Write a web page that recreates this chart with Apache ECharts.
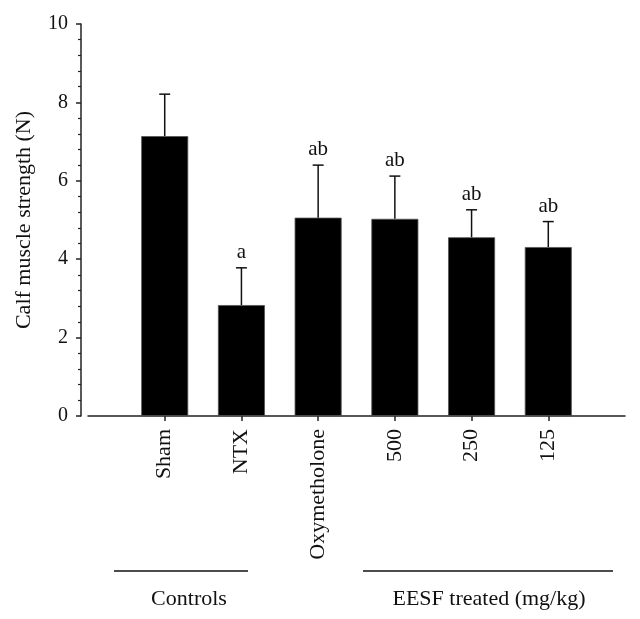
<!DOCTYPE html>
<html><head><meta charset="utf-8">
<script src="https://cdn.jsdelivr.net/npm/echarts@6/dist/echarts.min.js"></script>
<style>html,body{margin:0;padding:0;background:#fff}#c{width:640px;height:619px}</style>
</head><body><div id="c"></div>
<script>
const categories = ['Sham', 'NTX', 'Oxymetholone', '500', '250', '125'];
const means = [7.14, 2.83, 5.06, 5.03, 4.56, 4.31];
const errorTops = [8.21, 3.78, 6.40, 6.12, 5.26, 4.96];
const sigLabels = ['', 'a', 'ab', 'ab', 'ab', 'ab'];
const yTicks = [0, 2, 4, 6, 8, 10];
const groupLabels = ['Controls', 'EESF treated (mg/kg)'];
const yName = 'Calf muscle strength (N)';

const FONT = 'Liberation Serif';
const AX = '#222';
const axisCats = [''].concat(categories, ['']);
const barData = [null].concat(means, [null]);
const errData = categories.map((c, i) => [i + 1, means[i], errorTops[i]]);
const sigData = categories.map((c, i) => [i + 1, errorTops[i], sigLabels[i]]);

const chart = echarts.init(document.getElementById('c'), null, {renderer: 'canvas'});
chart.setOption({
  animation: false,
  backgroundColor: '#fff',
  grid: {left: 88, right: 15, top: 24, bottom: 203},
  xAxis: {
    type: 'category', data: axisCats, boundaryGap: false,
    axisLine: {lineStyle: {color: AX, width: 1.5}},
    axisTick: {show: true, length: 5, lineStyle: {color: AX, width: 1.5},
      interval: (i, v) => v !== ''},
    axisLabel: {rotate: 90, margin: 13, fontFamily: FONT, fontSize: 22, color: '#111',
      interval: 0},
    splitLine: {show: false}
  },
  yAxis: {
    type: 'value', min: yTicks[0], max: yTicks[yTicks.length - 1],
    interval: yTicks[1] - yTicks[0], offset: 7,
    name: yName, nameLocation: 'middle', nameGap: 46,
    nameTextStyle: {fontFamily: FONT, fontSize: 22, color: '#111'},
    axisLine: {show: true, lineStyle: {color: AX, width: 1.5}},
    axisTick: {show: true, length: 5, lineStyle: {color: AX, width: 1.5}},
    minorTick: {show: true, splitNumber: 5, length: 3, lineStyle: {color: AX, width: 1.2}},
    axisLabel: {margin: 13, fontFamily: FONT, fontSize: 20, color: '#111'},
    splitLine: {show: false}
  },
  series: [
    {type: 'bar', data: barData, barWidth: 47,
     itemStyle: {color: '#000', borderColor: '#555', borderWidth: 0.8}},
    {type: 'custom', data: errData, z: 3,
     renderItem: function (params, api) {
       const x = api.value(0);
       const p0 = api.coord([x, api.value(1)]);
       const p1 = api.coord([x, api.value(2)]);
       const hw = 5.5;
       return {type: 'group', children: [
         {type: 'line', shape: {x1: p0[0], y1: p0[1], x2: p1[0], y2: p1[1]},
          style: {stroke: '#111', lineWidth: 1.5}},
         {type: 'line', shape: {x1: p1[0] - hw, y1: p1[1], x2: p1[0] + hw, y2: p1[1]},
          style: {stroke: '#111', lineWidth: 1.5}}
       ]};
     }},
    {type: 'custom', data: sigData, z: 4,
     renderItem: function (params, api) {
       const x = api.value(0);
       const p = api.coord([x, api.value(1)]);
       return {type: 'text', x: p[0], y: p[1] - 5,
         style: {text: sigLabels[params.dataIndex], fontFamily: FONT, fontSize: 21,
           fill: '#111', align: 'center', verticalAlign: 'bottom'}};
     }}
  ],
  graphic: [
    {type: 'line', shape: {x1: 114, y1: 571, x2: 248, y2: 571},
     style: {stroke: '#111', lineWidth: 1.5}},
    {type: 'line', shape: {x1: 363, y1: 571, x2: 613, y2: 571},
     style: {stroke: '#111', lineWidth: 1.5}},
    {type: 'text', x: 189, y: 599, style: {text: groupLabels[0], fontFamily: FONT,
      fontSize: 22, fill: '#111', align: 'center', verticalAlign: 'middle'}},
    {type: 'text', x: 489, y: 599, style: {text: groupLabels[1], fontFamily: FONT,
      fontSize: 22, fill: '#111', align: 'center', verticalAlign: 'middle'}}
  ]
});
</script></body></html>
